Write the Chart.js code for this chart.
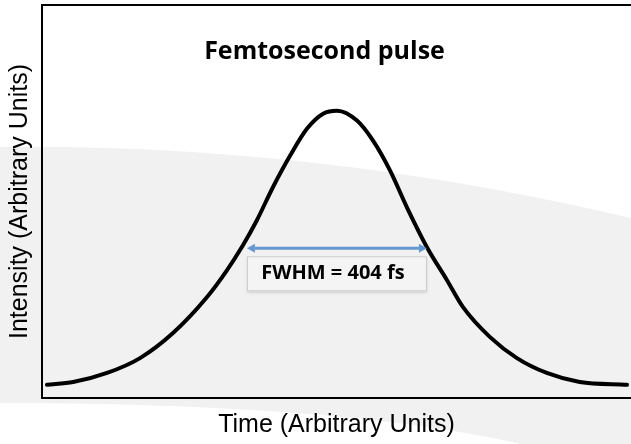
<!DOCTYPE html>
<html>
<head>
<meta charset="utf-8">
<title>Femtosecond pulse</title>
<script src="https://cdn.jsdelivr.net/npm/chart.js@4"></script>
<style>
    html, body { margin: 0; padding: 0; background: #ffffff; }
    #wrap { position: relative; width: 631px; height: 444px; overflow: hidden; }
    #backdrop { position: absolute; left: 0; top: 0; }
    #pulseChart { position: absolute; left: 0; top: 0; }
</style>
</head>
<body>
<div id="wrap">
    <!-- slide background swoosh -->
    <svg id="backdrop" width="631" height="444">
        <path d="M0,147 C200,144 420,168 631,218 L631,444 L520,444 C390,414 200,403 0,403 Z" fill="#f1f1f1"/>
    </svg>
    <canvas id="pulseChart" width="631" height="444"></canvas>
</div>
<script>
// Pulse trace (time in fs, intensity normalised to the peak)
const timeFs = [-651, -592, -516, -442, -368, -292, -247, -211, -180, -144, -105, -67, -31, 0,
                45, 81, 119, 157, 202, 247, 283, 343, 404, 471, 545, 651];
const intensity = [0.004, 0.014, 0.047, 0.101, 0.192, 0.322, 0.420, 0.511, 0.601, 0.721, 0.837, 0.935, 0.989, 1.0,
                   0.964, 0.891, 0.783, 0.649, 0.504, 0.384, 0.286, 0.178, 0.101, 0.047, 0.014, 0.004];

const fwhmFs = 404;
const halfMax = 0.5;
const timeRange = [-662, 660];
const intensityRange = [-0.044, 1.384];

const chartTitle = 'Femtosecond pulse';
const xTitle = 'Time (Arbitrary Units)';
const yTitle = 'Intensity (Arbitrary Units)';

// 1. Title + FWHM arrow with its label box, drawn on top of the curve
const annotationPlugin = {
    id: 'pulseAnnotations',
    afterDatasetsDraw(chart) {
        const { ctx, chartArea, scales } = chart;
        const xs = scales.x, ys = scales.y;

        // Title inside the plot
        ctx.save();
        ctx.fillStyle = '#000000';
        ctx.font = 'bold 25px "Open Sans"';
        ctx.textAlign = 'center';
        ctx.textBaseline = 'alphabetic';
        ctx.fillText(chartTitle, (chartArea.left + chartArea.right) / 2 - 12, chartArea.top + 54);

        // FWHM arrow
        const xL = xs.getPixelForValue(-fwhmFs / 2);
        const xR = xs.getPixelForValue(fwhmFs / 2);
        const yA = ys.getPixelForValue(halfMax);

        // label box under the arrow
        const boxTop = yA + 8, boxH = 35;
        ctx.shadowColor = 'rgba(0,0,0,0.18)';
        ctx.shadowBlur = 3;
        ctx.shadowOffsetY = 2;
        ctx.fillStyle = '#f4f4f4';
        ctx.fillRect(xL, boxTop, xR - xL, boxH);
        ctx.shadowColor = 'transparent';
        ctx.strokeStyle = '#cccccc';
        ctx.lineWidth = 1;
        ctx.strokeRect(xL + 0.5, boxTop + 0.5, xR - xL - 1, boxH - 1);

        ctx.fillStyle = '#000000';
        ctx.font = 'bold 20px "Open Sans"';
        ctx.textBaseline = 'middle';
        ctx.fillText(`FWHM = ${fwhmFs} fs`, (xL + xR) / 2 - 4, boxTop + boxH / 2);

        const head = 8;
        ctx.strokeStyle = '#6497cf';
        ctx.fillStyle = '#6497cf';
        ctx.lineWidth = 3;
        ctx.beginPath();
        ctx.moveTo(xL + head, yA);
        ctx.lineTo(xR - head, yA);
        ctx.stroke();
        ctx.beginPath();
        ctx.moveTo(xL, yA);
        ctx.lineTo(xL + head, yA - 4.5);
        ctx.lineTo(xL + head, yA + 4.5);
        ctx.closePath();
        ctx.fill();
        ctx.beginPath();
        ctx.moveTo(xR, yA);
        ctx.lineTo(xR - head, yA - 4.5);
        ctx.lineTo(xR - head, yA + 4.5);
        ctx.closePath();
        ctx.fill();
        ctx.restore();
    }
};

// 2. Build the chart
function buildChart() {
    const ctx = document.getElementById('pulseChart').getContext('2d');
    const points = timeFs.map((t, i) => ({ x: t, y: intensity[i] }));

    new Chart(ctx, {
        type: 'line',
        data: {
            datasets: [{
                label: chartTitle,
                data: points,
                borderColor: '#000000',
                borderWidth: 4,
                borderCapStyle: 'round',
                pointRadius: 0,
                fill: false,
                cubicInterpolationMode: 'monotone'
            }]
        },
        options: {
            responsive: false,
            animation: false,
            layout: { padding: { top: 5, right: 0, left: 0, bottom: 0 } },
            plugins: {
                legend: { display: false },
                tooltip: { enabled: false }
            },
            scales: {
                x: {
                    type: 'linear', position: 'bottom',
                    min: timeRange[0], max: timeRange[1],
                    ticks: { display: false },
                    grid: { display: false, drawTicks: false },
                    border: { display: true, color: '#000000', width: 2 },
                    title: {
                        display: true, text: xTitle, color: '#000000',
                        font: { family: 'Liberation Sans', size: 25 },
                        padding: { top: 12, bottom: 4 }
                    }
                },
                xTop: {
                    type: 'linear', position: 'top',
                    min: timeRange[0], max: timeRange[1],
                    ticks: { display: false },
                    grid: { display: false, drawTicks: false },
                    border: { display: true, color: '#000000', width: 2 }
                },
                y: {
                    type: 'linear', position: 'left',
                    min: intensityRange[0], max: intensityRange[1],
                    ticks: { display: false },
                    grid: { display: false, drawTicks: false },
                    border: { display: true, color: '#000000', width: 2 },
                    title: {
                        display: true, text: yTitle, color: '#000000',
                        font: { family: 'Liberation Sans', size: 25 },
                        padding: { top: 5, bottom: 7 }
                    }
                }
            }
        },
        plugins: [annotationPlugin]
    });
}

document.addEventListener('DOMContentLoaded', buildChart);
</script>
</body>
</html>
